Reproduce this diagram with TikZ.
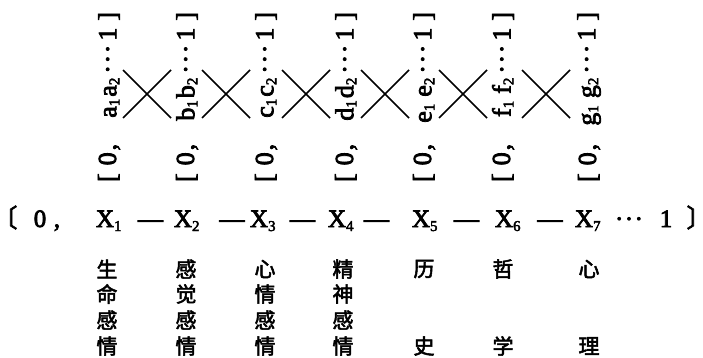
\documentclass[tikz,border=0pt]{standalone}
\usepackage{fontspec}
\setmainfont{Liberation Serif}[FakeBold=3]
\newfontfamily\cjk{Noto Sans CJK SC}[FakeBold=2.5]
\newfontfamily\cjkhalf{Noto Sans CJK SC}[RawFeature=+halt, FakeBold=2.5]
% lowered small figures used as indices
\newcommand\sbx[1]{\raisebox{-4pt}{\fontsize{15}{15}\selectfont #1}}
\newcommand\sbv[1]{\raisebox{-3pt}{\fontsize{15}{15}\selectfont #1}}
\newcommand\dotrow{·\hspace{1.5pt}·\hspace{1.5pt}·}
\begin{document}
\begin{tikzpicture}[x=1pt,y=-1pt,
  every node/.style={inner sep=0pt, outer sep=0pt},
  vlabel/.style={rotate=90, font=\fontsize{26}{26}\selectfont},
  term/.style={anchor=base west, font=\fontsize{25}{25}\selectfont},
  sym/.style={anchor=base, font=\fontsize{25}{25}\selectfont},
  brk/.style={font=\cjkhalf\fontsize{25}{25}\selectfont},
  hanzi/.style={font=\cjk\fontsize{21}{21}\selectfont},
  cross/.style={line width=1.5pt}]
\useasboundingbox (0,0) rectangle (703,358);

% vertical interval labels
\foreach \x/\l/\s [count=\i] in {109/a/,187/b/,266/c/,346/d/,424/e/\hspace{5pt},503/f/\hspace{5pt},589/g/\hspace{5pt}}{
  \node[vlabel, anchor=west] (lo\i) at (\x,182) {[\hspace{8pt}0\hspace{2pt},};
  \node[vlabel, anchor=east] (hi\i) at (\x,12)
    {\l\sbv{1}\hspace{2pt}\s\l\sbv{2}\hspace{4pt}\dotrow\hspace{4pt}1\hspace{7pt}]};
}

% crossings between neighbouring intervals
\foreach \cx [count=\i] in {147,226,306,385,463,546}{
  \coordinate (k\i) at (\cx,94);
  \draw[cross] (k\i) ++(-24,-24) -- ++(48,48);
  \draw[cross] (k\i) ++(-24,24) -- ++(48,-48);
}

% main chain
\node[brk, anchor=base west] (lb) at (5,227) {〔};
\node[sym] (zero) at (40,227) {0};
\node[sym] (comma) at (57,227) {,};
\foreach \x [count=\i] in {96,174,250,328,412,495,575}
  \node[term] (X\i) at (\x,227) {X\sbx{\i}};
\foreach \x [count=\i] in {150.5,232,302.5,376.5,466.5,550}
  \node[sym] (d\i) at (\x,227) {—};
\node[sym] (dots) at (629,227) {\dotrow};
\node[sym] (one) at (666,227) {1};
\node[brk, anchor=base east] (rb) at (699,227) {〕};

% readings under the terms
\foreach \x/\a/\b/\c/\d [count=\i] in
  {107/生/命/感/情, 186/感/觉/感/情, 265/心/情/感/情, 343/精/神/感/情,
   424/历/{}/{}/史, 503/哲/{}/{}/学, 589/心/{}/{}/理}{
  \node[hanzi] (h\i a) at (\x,269) {\a};
  \node[hanzi] (h\i b) at (\x,294) {\b};
  \node[hanzi] (h\i c) at (\x,320) {\c};
  \node[hanzi] (h\i d) at (\x,346) {\d};
}
\end{tikzpicture}
\end{document}
